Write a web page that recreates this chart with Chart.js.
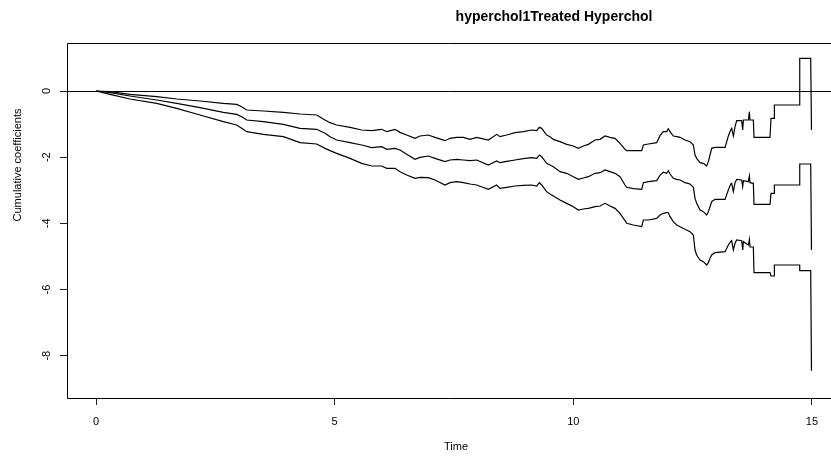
<!DOCTYPE html>
<html>
<head>
<meta charset="utf-8">
<script src="https://cdn.jsdelivr.net/npm/chart.js@4.4.0/dist/chart.umd.min.js"></script>
<style>
html, body { margin: 0; padding: 0; background: #fff; overflow: hidden; }
canvas { display: block; }
</style>
</head>
<body>
<canvas id="canvas" width="831" height="458"></canvas>
<script>
const chartTitle = 'hyperchol1Treated Hyperchol';
const xTitle = 'Time';
const yTitle = 'Cumulative coefficients';
const timeTicks = [0, 5, 10, 15];
const coefTicks = [0, -2, -4, -6, -8];
// the plot box runs past the right edge of the picture
const timeRange = [-0.608, 15.399];
const coefRange = [-9.278, 1.451];

// time, upper band, estimate, lower band
const times = [
    0, 0.293, 0.712, 1.271, 1.690, 2.179, 2.668, 2.947, 3.052, 3.157,
    3.506, 3.925, 4.274, 4.623, 4.798, 4.903, 5.042, 5.322, 5.566, 5.776,
    5.985, 6.090, 6.264, 6.369, 6.509, 6.683, 6.788, 6.963, 7.102, 7.312,
    7.417, 7.556, 7.696, 7.836, 7.975, 8.220, 8.394, 8.464, 8.604, 8.779,
    8.953, 9.128, 9.233, 9.288, 9.337, 9.442, 9.512, 9.582, 9.721, 9.861,
    10.001, 10.106, 10.210, 10.315, 10.455, 10.559, 10.664, 10.769, 10.874, 10.978,
    11.083, 11.118, 11.258, 11.433, 11.468, 11.572, 11.747, 11.816, 11.886, 11.956,
    11.991, 12.026, 12.096, 12.166, 12.236, 12.340, 12.445, 12.515, 12.550, 12.585,
    12.655, 12.725, 12.794, 12.829, 12.864, 12.899, 12.969, 13.179, 13.248, 13.297,
    13.318, 13.353, 13.388, 13.423, 13.528, 13.549, 13.563, 13.668, 13.689, 13.702,
    13.772, 13.786, 14.121, 14.142, 14.212, 14.213, 14.743, 14.744, 14.974, 14.990
];
const upper = [
    0, -0.020, -0.101, -0.171, -0.242, -0.302, -0.373, -0.403, -0.474, -0.574,
    -0.604, -0.645, -0.695, -0.725, -0.876, -0.957, -1.027, -1.098, -1.179, -1.199,
    -1.158, -1.229, -1.158, -1.249, -1.330, -1.430, -1.360, -1.330, -1.400, -1.501,
    -1.430, -1.400, -1.400, -1.461, -1.400, -1.481, -1.310, -1.380, -1.330, -1.259,
    -1.229, -1.179, -1.199, -1.098, -1.128, -1.330, -1.380, -1.461, -1.531, -1.612,
    -1.662, -1.733, -1.662, -1.612, -1.481, -1.461, -1.360, -1.400, -1.430, -1.581,
    -1.763, -1.803, -1.803, -1.803, -1.632, -1.602, -1.561, -1.350, -1.230, -1.229,
    -1.140, -1.229, -1.360, -1.380, -1.400, -1.481, -1.531, -1.632, -1.934, -2.035,
    -2.166, -2.186, -2.267, -2.136, -1.934, -1.733, -1.703, -1.703, -1.360, -1.179,
    -1.128, -1.360, -1.078, -0.897, -0.897, -1.179, -0.876, -0.876, -0.625, -0.876,
    -0.876, -1.400, -1.400, -0.826, -0.826, -0.423, -0.423, 0.987, 0.987, -1.179
];
const estimate = [
    0, -0.050, -0.151, -0.272, -0.373, -0.504, -0.645, -0.705, -0.776, -0.876,
    -0.927, -1.007, -1.128, -1.158, -1.279, -1.380, -1.481, -1.561, -1.632, -1.713,
    -1.682, -1.763, -1.733, -1.783, -1.914, -2.065, -2.005, -1.964, -2.035, -2.136,
    -2.085, -2.065, -2.085, -2.105, -2.085, -2.236, -2.115, -2.166, -2.126, -2.085,
    -2.045, -2.015, -2.035, -1.934, -1.985, -2.186, -2.236, -2.287, -2.438, -2.488,
    -2.589, -2.669, -2.629, -2.589, -2.488, -2.468, -2.387, -2.438, -2.488, -2.589,
    -2.841, -2.911, -2.952, -2.972, -2.770, -2.740, -2.710, -2.550, -2.450, -2.488,
    -2.408, -2.508, -2.639, -2.669, -2.690, -2.770, -2.811, -2.911, -3.244, -3.395,
    -3.596, -3.647, -3.747, -3.647, -3.496, -3.345, -3.274, -3.274, -2.992, -2.811,
    -2.790, -3.042, -2.770, -2.669, -2.690, -2.891, -2.710, -2.740, -2.569, -2.770,
    -2.790, -3.425, -3.425, -3.093, -3.093, -2.841, -2.841, -2.206, -2.206, -4.805
];
const lower = [
    0, -0.101, -0.242, -0.373, -0.524, -0.725, -0.927, -1.027, -1.128, -1.229,
    -1.309, -1.380, -1.561, -1.602, -1.733, -1.803, -1.884, -2.035, -2.186, -2.267,
    -2.267, -2.337, -2.337, -2.438, -2.539, -2.639, -2.609, -2.619, -2.690, -2.841,
    -2.770, -2.740, -2.770, -2.811, -2.841, -2.972, -2.841, -2.941, -2.911, -2.871,
    -2.851, -2.841, -2.871, -2.770, -2.841, -3.042, -3.113, -3.173, -3.294, -3.395,
    -3.496, -3.596, -3.566, -3.546, -3.496, -3.476, -3.395, -3.476, -3.546, -3.697,
    -3.919, -3.999, -4.050, -4.100, -3.898, -3.898, -3.848, -3.747, -3.697, -3.677,
    -3.680, -3.798, -3.949, -4.050, -4.100, -4.180, -4.251, -4.352, -4.805, -4.956,
    -5.107, -5.158, -5.258, -5.188, -5.057, -4.956, -4.886, -4.855, -4.654, -4.553,
    -4.523, -4.805, -4.603, -4.503, -4.523, -4.805, -4.553, -4.654, -4.483, -4.714,
    -4.714, -5.490, -5.490, -5.591, -5.591, -5.258, -5.258, -5.430, -5.430, -8.452
];

const font = "'Liberation Sans', Arial, Helvetica, sans-serif";
const toPoints = (vals) => times.map((t, i) => ({x: t, y: vals[i]}));

const lineSet = (label, vals) => ({
    label,
    data: toPoints(vals),
    borderColor: '#000',
    borderWidth: 1.2,
    pointRadius: 0,
    tension: 0,
    fill: false
});

// open box (its right side is off the picture), zero line, rotated y labels and titles
const rDecor = {
    id: 'rDecor',
    afterDraw(chart) {
        const {ctx, chartArea, scales} = chart;
        const right = chartArea.right;
        ctx.save();
        ctx.strokeStyle = '#000';
        ctx.lineWidth = 1;
        [chartArea.top + 0.5, chartArea.bottom + 0.5, Math.round(scales.y.getPixelForValue(0)) + 0.5].forEach(y => {
            ctx.beginPath();
            ctx.moveTo(chartArea.left + 0.5, y);
            ctx.lineTo(right, y);
            ctx.stroke();
        });
        ctx.beginPath();
        ctx.moveTo(chartArea.left + 0.5, chartArea.top + 0.5);
        ctx.lineTo(chartArea.left + 0.5, chartArea.bottom + 0.5);
        ctx.stroke();

        ctx.fillStyle = '#000';
        ctx.font = '11px ' + font;
        ctx.textAlign = 'center';
        ctx.textBaseline = 'middle';
        coefTicks.forEach(v => {
            const y = scales.y.getPixelForValue(v);
            ctx.save();
            ctx.translate(47, y);
            ctx.rotate(-Math.PI / 2);
            ctx.fillText(String(v), 0, 0);
            ctx.restore();
        });

        ctx.save();
        ctx.translate(18, 165);
        ctx.rotate(-Math.PI / 2);
        ctx.fillText(yTitle, 0, 0);
        ctx.restore();

        ctx.fillText(xTitle, 456, 447);

        ctx.font = 'bold 14px ' + font;
        ctx.fillText(chartTitle, 554, 17);
        ctx.restore();
    }
};

const ctx = document.getElementById('canvas').getContext('2d');
new Chart(ctx, {
    type: 'line',
    data: {
        datasets: [
            lineSet('Upper', upper),
            lineSet('Estimate', estimate),
            lineSet('Lower', lower)
        ]
    },
    options: {
        responsive: false,
        animation: false,
        layout: {padding: {top: 43, right: 0, left: 0, bottom: 0}},
        plugins: {legend: {display: false}, tooltip: {enabled: false}, title: {display: false}},
        scales: {
            x: {
                type: 'linear',
                min: timeRange[0],
                max: timeRange[1],
                afterBuildTicks: s => { s.ticks = timeTicks.map(v => ({value: v})); },
                afterFit: s => { s.height = 60; },
                grid: {drawOnChartArea: false, drawTicks: true, tickLength: 7, color: '#222'},
                border: {display: false},
                ticks: {color: '#000', font: {family: font, size: 11}, padding: 10, maxRotation: 0}
            },
            y: {
                type: 'linear',
                min: coefRange[0],
                max: coefRange[1],
                afterBuildTicks: s => { s.ticks = coefTicks.map(v => ({value: v})); },
                afterFit: s => { s.width = 67; },
                grid: {drawOnChartArea: false, drawTicks: true, tickLength: 7, color: '#222'},
                border: {display: false},
                ticks: {display: false}
            }
        }
    },
    plugins: [rDecor]
});
</script>
</body>
</html>
